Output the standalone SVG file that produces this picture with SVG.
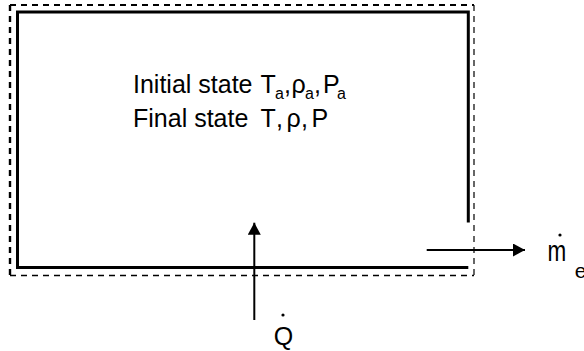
<svg xmlns="http://www.w3.org/2000/svg" width="584" height="351" viewBox="0 0 584 351">
<style>
.t{font-family:"Liberation Sans",Arial,sans-serif;font-size:25px;fill:#000}
.s{font-size:16px}
.solid{fill:none;stroke:#000;stroke-width:3}
.dash{fill:none;stroke:#000;stroke-dasharray:6 5}
.arr{stroke:#000;stroke-width:2;fill:none}
</style>
<defs>
<marker id="ah" viewBox="0 0 12 13" refX="12" refY="6.5" markerWidth="12" markerHeight="13" markerUnits="userSpaceOnUse" orient="auto">
<path d="M0,0 L12,6.5 L0,13 Z" fill="#000"/>
</marker>
</defs>
<rect width="584" height="351" fill="#fff"/>
<g id="control-volume">
<path class="dash" d="M10,275 V5" stroke-width="2.4"/>
<path class="dash" d="M10,5 H474" stroke-width="1.8"/>
<path class="dash" d="M474,5 V275.5" stroke-width="1.2"/>
<path class="dash" d="M10,275.5 H474" stroke-width="1.3"/>
</g>
<g id="tank">
<path class="solid" d="M468.3,222.5 V12 H17.5 V267.5 H468.3"/>
<text class="t" y="93.3"><tspan x="133">Initial state</tspan><tspan x="260.5">T</tspan><tspan class="s" x="275" y="98.5">a</tspan><tspan x="284" y="93.3">,</tspan><tspan x="291.5">ρ</tspan><tspan class="s" x="305" y="98.5">a</tspan><tspan x="314" y="93.3">,</tspan><tspan x="323">P</tspan><tspan class="s" x="337" y="98.5">a</tspan></text>
<text class="t" y="126.7"><tspan x="133">Final state</tspan><tspan x="260.5">T</tspan><tspan x="276">,</tspan><tspan x="286.5">ρ</tspan><tspan x="301">,</tspan><tspan x="311.5">P</tspan></text>
</g>
<g id="connectors">
<line class="arr" x1="254.3" y1="320" x2="254.3" y2="222.7" marker-end="url(#ah)"/>
<line class="arr" x1="426.7" y1="250" x2="525" y2="250" marker-end="url(#ah)"/>
</g>
<g id="heat">
<circle cx="283" cy="315" r="1.6" fill="#000"/>
<text class="t" x="273.8" y="345">Q</text>
</g>
<g id="mass-out">
<circle cx="560" cy="235" r="1.6" fill="#000"/>
<text class="t" transform="translate(547.5,260.5) scale(0.9,1.15)" x="0" y="0">m</text>
<text class="t" x="574.8" y="278" style="font-size:21px">e</text>
</g>
</svg>
